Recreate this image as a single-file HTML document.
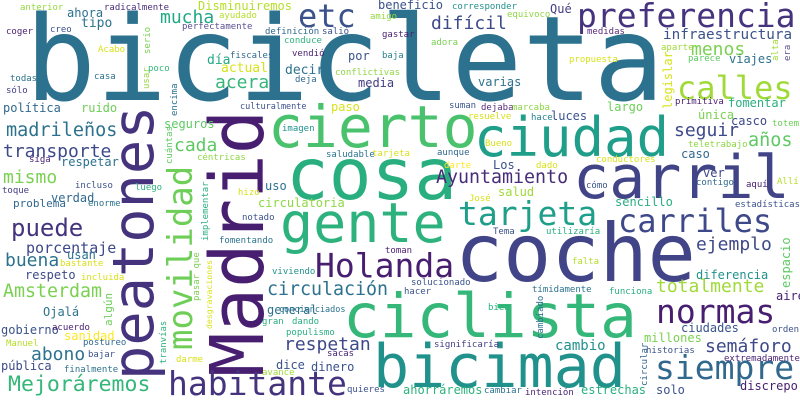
<!DOCTYPE html>
<html><head><meta charset="utf-8"><title>Word cloud</title>
<style>
html,body{margin:0;padding:0;background:#fff;}
svg{display:block;}
text{font-family:"DejaVu Sans Mono","Liberation Mono",monospace;}
</style></head>
<body>
<svg width="800" height="400" viewBox="0 0 800 400" xmlns="http://www.w3.org/2000/svg">
<rect width="800" height="400" fill="#ffffff"/>
<!-- big words -->
<text x="25" y="100" font-size="118" fill="#2c728e">bicicleta</text>
<text x="455" y="281" font-size="80" fill="#414487">coche</text>
<text x="343" y="337" font-size="61" fill="#35b779">ciclista</text>
<text x="263" y="377" font-size="74" fill="#481f70" transform="rotate(-90 263 377)">Madrid</text>
<text x="153" y="380" font-size="57" fill="#46337e" transform="rotate(-90 153 380)">peatones</text>
<text x="286" y="199" font-size="71" fill="#29af7f">cosa</text>
<text x="373" y="387" font-size="60" fill="#21918c">bicimad</text>
<text x="573" y="198" font-size="60" fill="#414487">carril</text>
<text x="280" y="242" font-size="55" fill="#2db27d">gente</text>
<text x="474" y="156" font-size="54" fill="#1f9e89">ciudad</text>
<text x="268" y="147" font-size="58" fill="#4ac16d">cierto</text>
<text x="577" y="27" font-size="33" fill="#46337e">preferencia</text>
<text x="298" y="27" font-size="32" fill="#3b528b">etc</text>
<text x="677" y="99" font-size="32" fill="#a0da39">calles</text>
<text x="192" y="350" font-size="34" fill="#6ece58" transform="rotate(-90 192 350)">movilidad</text>
<text x="168" y="395" font-size="33" fill="#46337e">habitante</text>
<text x="315" y="277" font-size="33" fill="#481f70">Holanda</text>
<text x="458" y="225" font-size="33" fill="#1f9e89">tarjeta</text>
<text x="618" y="232" font-size="32" fill="#3e4989">carriles</text>
<text x="656" y="323" font-size="33" fill="#481f70">normas</text>
<text x="655" y="379" font-size="33" fill="#31688e">siempre</text>
<text x="11" y="236" font-size="24" fill="#46337e">puede</text>
<!-- medium words -->
<text x="160" y="23" font-size="18" fill="#22a884">mucha</text>
<text x="431" y="29" font-size="18" fill="#3e4989">difícil</text>
<text x="215" y="88" font-size="18" fill="#35b779">acera</text>
<text x="691" y="55" font-size="18" fill="#7ad151">menos</text>
<text x="6" y="136" font-size="18.5" fill="#2c728e">madrileños</text>
<text x="3" y="157" font-size="18" fill="#3e4989">transporte</text>
<text x="174" y="151" font-size="18" fill="#5ec962">cada</text>
<text x="3" y="183" font-size="18" fill="#7ad151">mismo</text>
<text x="674" y="136" font-size="18" fill="#3e4989">seguir</text>
<text x="748" y="146" font-size="18.5" fill="#5ec962">años</text>
<text x="436" y="183" font-size="18.3" fill="#472c7a">Ayuntamiento</text>
<text x="5" y="266" font-size="18" fill="#2c728e">buena</text>
<text x="3" y="297" font-size="18.3" fill="#7ad151">Amsterdam</text>
<text x="31" y="360" font-size="18" fill="#2c728e">abono</text>
<text x="8" y="391" font-size="21.5" fill="#35b779">Mejoráremos</text>
<text x="267" y="295" font-size="18.3" fill="#2c728e">circulación</text>
<text x="284" y="350" font-size="18" fill="#3e4989">respetan</text>
<text x="696" y="250" font-size="18" fill="#3e4989">ejemplo</text>
<text x="656" y="292" font-size="18" fill="#a0da39">totalmente</text>
<text x="705" y="352" font-size="18" fill="#3e4989">semáforo</text>
<text x="26" y="253" font-size="15" fill="#3e4989">porcentaje</text>
<text x="663" y="39" font-size="14.3" fill="#3b528b">infraestructura</text>
<text x="555" y="350" font-size="14" fill="#21918c">cambio</text>
<!-- 12px words -->
<text x="198" y="10" font-size="12" fill="#b5de2b">Disminuiremos</text>
<text x="67" y="17" font-size="12" fill="#2c728e">ahora</text>
<text x="81" y="27" font-size="13" fill="#2c728e">tipo</text>
<text x="378" y="9" font-size="12" fill="#3b528b">beneficio</text>
<text x="550" y="13" font-size="12" fill="#433e85">Qué</text>
<text x="207" y="64" font-size="13" fill="#22a884">día</text>
<text x="348" y="60" font-size="12" fill="#3b528b">por</text>
<text x="221" y="72" font-size="13" fill="#d8e219">actual</text>
<text x="285" y="74" font-size="13" fill="#2c728e">decir</text>
<text x="358" y="87" font-size="12" fill="#433e85">media</text>
<text x="729" y="63" font-size="12" fill="#2c728e">viajes</text>
<text x="478" y="86" font-size="12" fill="#2c728e">varias</text>
<text x="3" y="112" font-size="12" fill="#31688e">política</text>
<text x="81" y="112" font-size="12" fill="#6ece58">ruido</text>
<text x="331" y="111" font-size="12" fill="#d8e219">paso</text>
<text x="728" y="107" font-size="12" fill="#29af7f">fomentar</text>
<text x="607" y="111" font-size="12" fill="#6ece58">largo</text>
<text x="551" y="120" font-size="12" fill="#3b528b">luces</text>
<text x="698" y="119" font-size="12" fill="#7ad151">única</text>
<text x="731" y="125" font-size="12" fill="#3e4989">casco</text>
<text x="164" y="128" font-size="12" fill="#5ec962">seguros</text>
<text x="61" y="166" font-size="12" fill="#2c728e">respetar</text>
<text x="681" y="158" font-size="12" fill="#31688e">caso</text>
<text x="493" y="169" font-size="12" fill="#3b528b">Los</text>
<text x="703" y="177" font-size="12" fill="#414487">ver</text>
<text x="265" y="190" font-size="12" fill="#2c728e">uso</text>
<text x="498" y="196" font-size="12" fill="#a0da39">salud</text>
<text x="51" y="202" font-size="12" fill="#31688e">verdad</text>
<text x="13" y="207" font-size="11" fill="#31688e">problema</text>
<text x="258" y="207" font-size="12" fill="#8fd744">circulatoria</text>
<text x="615" y="206" font-size="12" fill="#29af7f">sencillo</text>
<text x="67" y="259" font-size="12" fill="#2c728e">usan</text>
<text x="25" y="279" font-size="12" fill="#3e4989">respeto</text>
<text x="696" y="279" font-size="12" fill="#21918c">diferencia</text>
<text x="43" y="316" font-size="12" fill="#2c728e">Ojalá</text>
<text x="267" y="314" font-size="12" fill="#2c728e">general</text>
<text x="1" y="334" font-size="12" fill="#3b528b">gobierno</text>
<text x="64" y="340" font-size="12" fill="#fde725">sanidad</text>
<text x="681" y="332" font-size="12" fill="#3b528b">ciudades</text>
<text x="644" y="342" font-size="12" fill="#7ad151">millones</text>
<text x="1" y="370" font-size="12" fill="#3e4989">pública</text>
<text x="276" y="369" font-size="12" fill="#3b528b">dice</text>
<text x="311" y="371" font-size="12" fill="#3b528b">dinero</text>
<text x="776" y="300" font-size="12" fill="#481f70">aire</text>
<text x="403" y="394" font-size="12" fill="#2db27d">ahorráremos</text>
<text x="581" y="394" font-size="12" fill="#29af7f">estrechas</text>
<text x="656" y="394" font-size="12" fill="#3b528b">solo</text>
<text x="740" y="390" font-size="12" fill="#481f70">discrepo</text>
<!-- small words -->
<g font-size="9">
<text x="20" y="10" fill="#95d840">anterior</text>
<text x="104" y="10" fill="#472c7a">radicalmente</text>
<text x="219" y="18" fill="#b5de2b">ayudado</text>
<text x="182" y="29" fill="#5b4f92">perfectamente</text>
<text x="6" y="34" fill="#481f70">coger</text>
<text x="50" y="32" fill="#3b528b">creo</text>
<text x="265" y="34" fill="#31688e">definición</text>
<text x="322" y="34" fill="#3b528b">salió</text>
<text x="452" y="9" fill="#21918c">corresponder</text>
<text x="507" y="17" fill="#8fd744">equivoco</text>
<text x="370" y="19" fill="#95d840">amigo</text>
<text x="587" y="34" fill="#5b2b7a">medidas</text>
<text x="382" y="37" fill="#481f70">gastar</text>
<text x="431" y="45" fill="#7ad151">adora</text>
<text x="661" y="50" fill="#a0da39">aparte</text>
<text x="98" y="52" fill="#d8e219">Acabo</text>
<text x="284" y="43" fill="#2db27d">conduce</text>
<text x="230" y="58" fill="#31688e">fiscales</text>
<text x="292" y="56" fill="#481f70">vendió</text>
<text x="382" y="58" fill="#26828e">baja</text>
<text x="569" y="62" fill="#d8e219">propuesta</text>
<text x="688" y="61" fill="#5ec962">parece</text>
<text x="148" y="71" fill="#35b779">poco</text>
<text x="94" y="79" fill="#2c728e">casa</text>
<text x="10" y="81" fill="#2c728e">todas</text>
<text x="295" y="82" fill="#31688e">deja</text>
<text x="335" y="75" fill="#8fd744">conflictivas</text>
<text x="6" y="93" fill="#433e85">sólo</text>
<text x="675" y="104" fill="#481f70">primitiva</text>
<text x="449" y="108" fill="#3b528b">suman</text>
<text x="481" y="110" fill="#5b2b7a">dejaba</text>
<text x="512" y="110" fill="#8fd744">marcaba</text>
<text x="240" y="109" font-size="8.5" fill="#3b528b">culturalmente</text>
<text x="468" y="119" fill="#d8e219">resuelve</text>
<text x="531" y="120" fill="#26828e">hace</text>
<text x="772" y="126" fill="#6ece58">totem</text>
<text x="282" y="131" fill="#21918c">imagen</text>
<text x="485" y="146" fill="#d8e219">Bueno</text>
<text x="688" y="147" fill="#8fd744">teletrabajo</text>
<text x="437" y="155" fill="#31688e">aunque</text>
<text x="326" y="157" fill="#2c728e">saludable</text>
<text x="372" y="156" fill="#d8e219">tarjeta</text>
<text x="197" y="160" fill="#8fd744">céntricas</text>
<text x="29" y="162" fill="#481f70">siga</text>
<text x="596" y="162" fill="#d8e219">conductores</text>
<text x="444" y="168" fill="#fde725">darte</text>
<text x="536" y="168" fill="#d8e219">dado</text>
<text x="696" y="185" fill="#31688e">contigo</text>
<text x="746" y="187" fill="#481f70">aquí</text>
<text x="777" y="184" fill="#b5de2b">Allí</text>
<text x="586" y="188" fill="#3b528b">cómo</text>
<text x="75" y="188" fill="#3b528b">incluso</text>
<text x="135" y="190" fill="#2db27d">luego</text>
<text x="238" y="195" fill="#d8e219">hizo</text>
<text x="2" y="193" fill="#433e85">toque</text>
<text x="469" y="201" fill="#d8e219">José</text>
<text x="88" y="206" fill="#2c728e">enorme</text>
<text x="735" y="207" fill="#3b528b">estadísticas</text>
<text x="242" y="220" fill="#3b528b">notado</text>
<text x="493" y="234" fill="#3b528b">Tema</text>
<text x="546" y="234" fill="#29af7f">utilizaría</text>
<text x="219" y="243" fill="#2c728e">fomentando</text>
<text x="385" y="253" fill="#481f70">toman</text>
<text x="572" y="264" fill="#b5de2b">falta</text>
<text x="60" y="266" fill="#d8e219">bastante</text>
<text x="272" y="274" fill="#21918c">viviendo</text>
<text x="81" y="280" fill="#d8e219">incluida</text>
<text x="411" y="285" fill="#3b528b">solucionado</text>
<text x="532" y="292" fill="#2c728e">tímidamente</text>
<text x="404" y="294" fill="#3b528b">hacer</text>
<text x="609" y="294" fill="#29af7f">funciona</text>
<text x="488" y="310" fill="#29af7f">bien</text>
<text x="279" y="312" font-size="8.5" fill="#2c728e">concienciados</text>
<text x="262" y="324" fill="#29af7f">gran</text>
<text x="292" y="324" fill="#29af7f">dando</text>
<text x="52" y="330" fill="#481f70">acuerdo</text>
<text x="772" y="332" fill="#3b528b">orden</text>
<text x="286" y="335" fill="#29af7f">populismo</text>
<text x="6" y="346" fill="#b5de2b">Manuel</text>
<text x="83" y="345" fill="#31688e">postureo</text>
<text x="434" y="347" fill="#433e85">significaría</text>
<text x="646" y="353" fill="#3b528b">historias</text>
<text x="327" y="356" fill="#482475">sacas</text>
<text x="88" y="357" fill="#3b528b">bajar</text>
<text x="724" y="361" fill="#481f70">extremadamente</text>
<text x="176" y="362" fill="#d8e219">darme</text>
<text x="64" y="372" fill="#2c728e">finalmente</text>
<text x="262" y="375" fill="#a0da39">avance</text>
<text x="347" y="392" fill="#3b528b">quieres</text>
<text x="484" y="393" fill="#2c728e">cambiar</text>
<text x="525" y="395" fill="#481f70">intención</text>
<!-- vertical small words -->
<text x="150" y="54" fill="#7ad151" transform="rotate(-90 150 54)">serio</text>
<text x="149" y="89" fill="#95d840" transform="rotate(-90 149 89)">usar</text>
<text x="177" y="116" fill="#2c728e" transform="rotate(-90 177 116)">encima</text>
<text x="172" y="164" fill="#5ec962" transform="rotate(-90 172 164)">cuántas</text>
<text x="208" y="241" fill="#29af7f" transform="rotate(-90 208 241)">implementar</text>
<text x="778" y="61" fill="#a0da39" transform="rotate(-90 778 61)">alta</text>
<text x="790" y="61" fill="#5b4f92" transform="rotate(-90 790 61)">era</text>
<text x="166" y="364" fill="#2db27d" transform="rotate(-90 166 364)">tranvías</text>
<text x="199" y="301" fill="#7ad151" transform="rotate(-90 199 301)">pasar que</text>
<text x="212" y="329" font-size="8.2" fill="#d8e219" transform="rotate(-90 212 329)">desgravaciones</text>
<text x="543" y="339" fill="#2c728e" transform="rotate(-90 543 339)">cambiado</text>
<text x="647" y="386" fill="#31688e" transform="rotate(-90 647 386)">circular</text>
</g>
<text x="672" y="109" font-size="12" fill="#d8e219" transform="rotate(-90 672 109)">legislar</text>
<text x="112" y="326" font-size="11" fill="#6ece58" transform="rotate(-90 112 326)">algún</text>
<text x="790" y="288" font-size="12" fill="#5ec962" transform="rotate(-90 790 288)">espacio</text>
</svg>
</body></html>
